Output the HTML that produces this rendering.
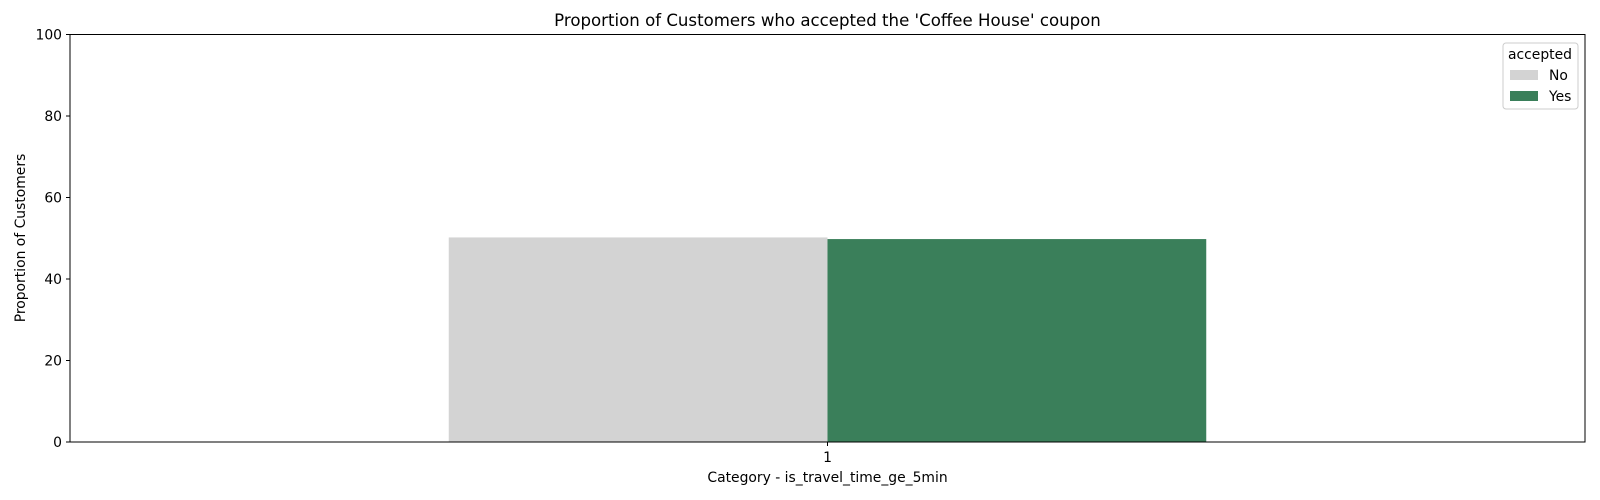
<!DOCTYPE html>
<html><head><meta charset="utf-8"><style>body{margin:0;background:#fff}svg{display:block;font-family:"DejaVu Sans","Liberation Sans",sans-serif}</style></head>
<body>
<svg id="chart" width="1600" height="500" xmlns="http://www.w3.org/2000/svg">
<text x="827.5" y="26" text-anchor="middle" font-size="16.6">Proportion of Customers who accepted the 'Coffee House' coupon</text>
<text transform="translate(25,238) rotate(-90)" text-anchor="middle" font-size="13.9">Proportion of Customers</text>
<text x="827.5" y="482" text-anchor="middle" font-size="13.9">Category - is_travel_time_ge_5min</text>
<g id="bars"></g><g id="yticks"></g><g id="xticks"></g>
<rect x="70" y="34.5" width="1515" height="407.5" fill="none" stroke="#000" stroke-width="1"/>
<g>
<rect x="1503" y="43" width="75" height="66" rx="3" fill="#fff" stroke="#ccc"/>
<text x="1540" y="59" text-anchor="middle" font-size="13.9">accepted</text>
<rect x="1510" y="70" width="28" height="10" fill="#d3d3d3"/>
<text x="1549" y="80" font-size="13.9">No</text>
<rect x="1510" y="91" width="28" height="10" fill="#3a7f5a"/>
<text x="1549" y="101" font-size="13.9">Yes</text>
</g>
</svg>
<script>
const categories = ["1"];
const seriesNames = ["No","Yes"];
const noValues = [50.2];
const yesValues = [49.8];
const yTicks = [0,20,40,60,80,100];
const colors = ["#d3d3d3","#3a7f5a"];
const L=70,R=1585,T=34.5,B=442;
const ns="http://www.w3.org/2000/svg";
const y=v=>B-(v/100)*(B-T);
const band=(R-L)/categories.length;
const xc=i=>L+band*(i+0.5);
const bw=band*0.25;
const bars=document.getElementById('bars');
[noValues,yesValues].forEach((vals,s)=>{
 vals.forEach((v,i)=>{
  const r=document.createElementNS(ns,'rect');
  
  
  r.setAttribute('x',xc(i)-bw+s*bw);r.setAttribute('width',bw);
  r.setAttribute('y',y(v));r.setAttribute('height',B-y(v));
  r.setAttribute('fill',colors[s]);bars.appendChild(r);
 });
});
const yt=document.getElementById('yticks');
yTicks.forEach(t=>{
 const l=document.createElementNS(ns,'line');
 
 
 l.setAttribute('x1',L-4);l.setAttribute('x2',L);l.setAttribute('y1',y(t));l.setAttribute('y2',y(t));l.setAttribute('stroke','#000');yt.appendChild(l);
 const tx=document.createElementNS(ns,'text');
 
 
 tx.setAttribute('x',L-8);tx.setAttribute('y',y(t)+5);tx.setAttribute('text-anchor','end');tx.setAttribute('font-size','13.9');tx.textContent=t;yt.appendChild(tx);
});
const xt=document.getElementById('xticks');
categories.forEach((c,i)=>{
 const l=document.createElementNS(ns,'line');
 
 
 l.setAttribute('x1',xc(i));l.setAttribute('x2',xc(i));l.setAttribute('y1',B);l.setAttribute('y2',B+4);l.setAttribute('stroke','#000');xt.appendChild(l);
 const tx=document.createElementNS(ns,'text');
 
 
 tx.setAttribute('x',xc(i));tx.setAttribute('y',B+20);tx.setAttribute('text-anchor','middle');tx.setAttribute('font-size','13.9');tx.textContent=c;xt.appendChild(tx);
});
</script>
</body></html>
